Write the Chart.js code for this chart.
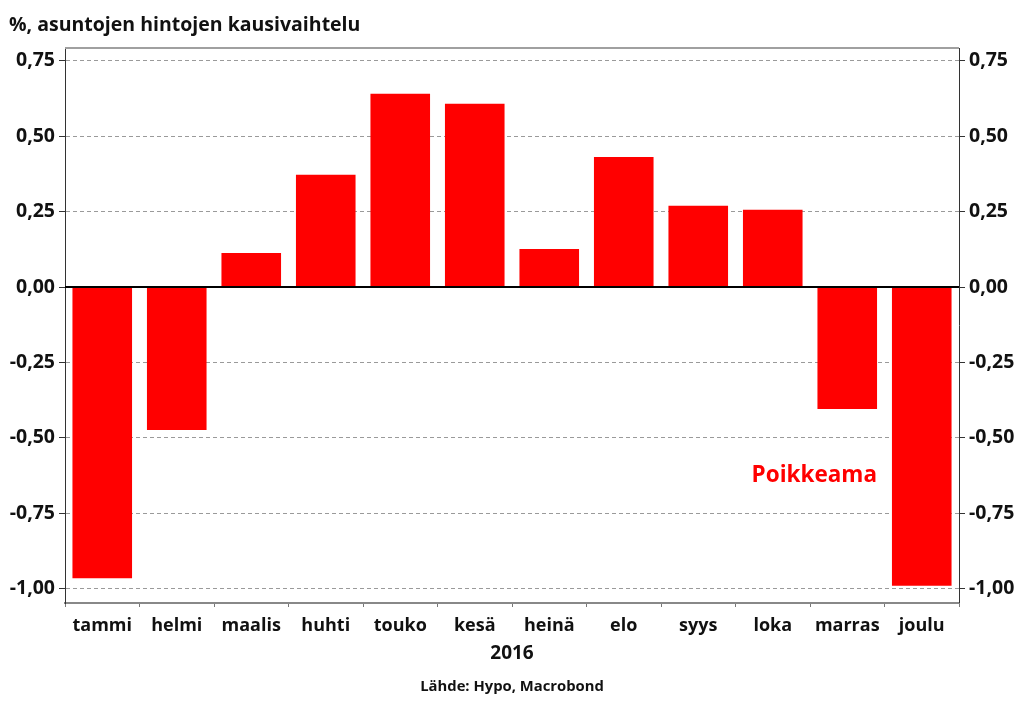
<!DOCTYPE html>
<html>
<head>
<meta charset="utf-8">
<script src="https://cdn.jsdelivr.net/npm/chart.js@4"></script>
<style>
  html, body { margin: 0; padding: 0; background: #fff; }
  #wrap { width: 1024px; height: 707px; position: relative; }
</style>
</head>
<body>
<div id="wrap"><canvas id="chart"></canvas></div>
<script>
// Kausivaihtelu by month, 2016
const months = ['tammi', 'helmi', 'maalis', 'huhti', 'touko', 'kesä', 'heinä', 'elo', 'syys', 'loka', 'marras', 'joulu'];
const values = [-0.965, -0.474, 0.113, 0.372, 0.640, 0.607, 0.126, 0.431, 0.269, 0.256, -0.404, -0.990];
const tickValues = [0.75, 0.5, 0.25, 0, -0.25, -0.5, -0.75, -1.0];

const FONT = '"Open Sans", "DejaVu Sans", sans-serif';

function fmt(v) {
    return v.toFixed(2).replace('.', ',');
}

const textPlugin = {
    id: 'texts',
    afterDatasetsDraw(chart) {
        const ctx = chart.ctx;
        const a = chart.chartArea;
        const y = chart.scales.y;
        ctx.save();
        // zero line
        ctx.strokeStyle = '#000';
        ctx.lineWidth = 2;
        const z = Math.round(y.getPixelForValue(0));
        ctx.beginPath();
        ctx.moveTo(a.left, z);
        ctx.lineTo(a.right, z);
        ctx.stroke();
        // frame
        ctx.lineWidth = 2;
        ctx.strokeStyle = '#a0a0a0';
        ctx.beginPath();
        ctx.moveTo(a.left, a.top);
        ctx.lineTo(a.right, a.top);
        ctx.stroke();
        ctx.lineWidth = 1;
        ctx.strokeStyle = '#333';
        ctx.beginPath();
        ctx.moveTo(a.right + 0.5, a.top);
        ctx.lineTo(a.right + 0.5, a.bottom);
        ctx.stroke();

        ctx.fillStyle = '#111';
        ctx.font = 'bold 19.5px ' + FONT;
        ctx.textBaseline = 'middle';
        ctx.textAlign = 'left';
        ctx.fillText('%, asuntojen hintojen kausivaihtelu', 9, 25);

        ctx.textAlign = 'center';
        ctx.font = 'bold 19px ' + FONT;
        ctx.fillText('2016', 512, 654);
        ctx.font = 'bold 14.8px ' + FONT;
        ctx.fillText('Lähde: Hypo, Macrobond', 512, 687);

        ctx.fillStyle = '#ff0000';
        ctx.font = 'bold 22.5px ' + FONT;
        ctx.textAlign = 'right';
        ctx.fillText('Poikkeama', 877, 476);
        ctx.restore();
    }
};

const yTicks = {
    font: { size: 19.5, weight: 'bold', family: FONT },
    color: '#111',
    padding: 4,
    callback: (v) => fmt(v)
};

new Chart(document.getElementById('chart').getContext('2d'), {
    type: 'bar',
    data: {
        labels: months,
        datasets: [{
            data: values,
            backgroundColor: '#ff0000',
            borderWidth: 0,
            barPercentage: 0.8,
            categoryPercentage: 1.0
        }]
    },
    options: {
        responsive: true,
        maintainAspectRatio: false,
        animation: false,
        layout: { padding: { top: 48, left: 0, right: 0, bottom: 0 } },
        plugins: {
            legend: { display: false },
            tooltip: { enabled: false }
        },
        scales: {
            x: {
                offset: true,
                grid: {
                    offset: true,
                    drawOnChartArea: false,
                    tickLength: 4,
                    color: '#777'
                },
                border: { color: '#888', width: 2 },
                ticks: {
                    font: { size: 18, weight: 'bold', family: FONT },
                    color: '#111',
                    padding: 8,
                    maxRotation: 0
                },
                afterFit(s) { s.height = 104; }
            },
            y: {
                position: 'left',
                min: -1.047,
                max: 0.792,
                afterBuildTicks(s) { s.ticks = tickValues.map(v => ({ value: v })); },
                grid: {
                    color: '#9a9a9a',
                    tickColor: '#333',
                    tickLength: 6,
                    lineWidth: 1
                },
                border: { color: '#333', width: 1, dash: [4, 3] },
                ticks: yTicks,
                afterFit(s) { s.width = 65; }
            },
            y1: {
                position: 'right',
                min: -1.047,
                max: 0.792,
                afterBuildTicks(s) { s.ticks = tickValues.map(v => ({ value: v })); },
                grid: {
                    drawOnChartArea: false,
                    tickColor: '#333',
                    tickLength: 6
                },
                border: { display: false },
                ticks: yTicks,
                afterFit(s) { s.width = 65; }
            }
        }
    },
    plugins: [textPlugin]
});
</script>
</body>
</html>
